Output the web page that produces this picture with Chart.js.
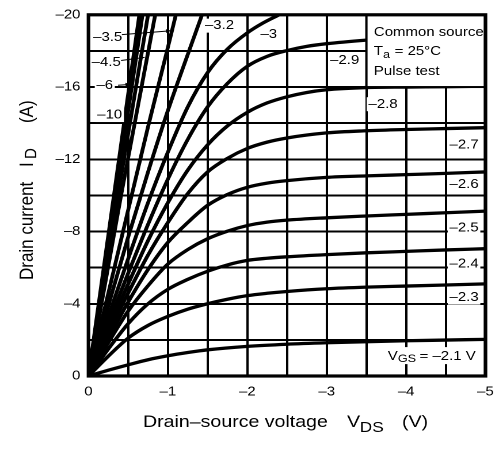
<!DOCTYPE html>
<html><head><meta charset="utf-8">
<script src="https://cdn.jsdelivr.net/npm/chart.js@4.4.0/dist/chart.umd.min.js"></script>
<style>
html,body{margin:0;padding:0;background:#fff;overflow:hidden;}
#wrap{position:absolute;left:0;top:0;width:437px;height:449px;transform:scaleX(1.15103);transform-origin:0 0;}
</style></head><body>
<div id="wrap"><canvas id="c" width="437" height="449"></canvas></div>
<script>
// ---- tick labels ----
const xTickValues = [0, -1, -2, -3, -4, -5];
const xTickLabels = ['0', '–1', '–2', '–3', '–4', '–5'];
const yTickValues = [0, -4, -8, -12, -16, -20];
const yTickLabels = ['0', '–4', '–8', '–12', '–16', '–20'];

// ---- series: [VDS (V), ID (A)] for each VGS ----
const vgs_m10 = [[0,0],[-0.32,-10],[-0.64,-20]];
const vgs_m6  = [[0,0],[-0.34,-10],[-0.68,-20]];
const vgs_m45 = [[0,0],[-0.37,-10],[-0.75,-20]];
const vgs_m4  = [[0,0],[-0.41,-10],[-0.84,-20]];
const vgs_m35 = [[0,0],[-0.25,-4.6],[-0.5,-9.2],[-0.75,-13.8],[-1,-18.2],[-1.1,-20]];
const vgs_m32 = [[0,0],[-0.25,-3.9],[-0.5,-7.7],[-0.75,-11.3],[-1,-14.7],[-1.25,-17.8],[-1.43,-20]];
const vgs_m30 = [[0,0],[-0.25,-3.3],[-0.5,-6.5],[-0.75,-9.6],[-1,-12.4],[-1.25,-14.9],[-1.5,-16.8],[-1.75,-18.1],[-2,-19.0],[-2.2,-19.55],[-2.4,-20]];
const vgs_m29 = [[0,0],[-0.25,-2.9],[-0.5,-5.7],[-0.75,-8.4],[-1,-10.9],[-1.25,-13.1],[-1.5,-14.9],[-1.75,-16.2],[-2,-17.15],[-2.25,-17.7],[-2.5,-18.02],[-2.75,-18.25],[-3,-18.4],[-3.5,-18.6],[-4,-18.75],[-4.5,-18.85],[-5,-18.95]];
const vgs_m28 = [[0,0],[-0.25,-2.6],[-0.5,-5.1],[-0.75,-7.5],[-1,-9.6],[-1.25,-11.4],[-1.5,-12.8],[-1.75,-13.85],[-2,-14.6],[-2.25,-15.12],[-2.5,-15.46],[-2.75,-15.7],[-3,-15.85],[-3.5,-15.97],[-4,-16.0],[-4.5,-16.02],[-5,-16.05]];
const vgs_m27 = [[0,0],[-0.25,-2.35],[-0.5,-4.6],[-0.75,-6.7],[-1,-8.5],[-1.25,-10.1],[-1.5,-11.3],[-1.75,-12.05],[-2,-12.6],[-2.25,-12.95],[-2.5,-13.18],[-3,-13.46],[-3.5,-13.58],[-4,-13.65],[-4.5,-13.7],[-5,-13.75]];
const vgs_m26 = [[0,0],[-0.25,-2.1],[-0.5,-4.1],[-0.75,-5.9],[-1,-7.4],[-1.25,-8.5],[-1.5,-9.45],[-1.75,-10.05],[-2,-10.45],[-2.25,-10.68],[-2.5,-10.82],[-3,-11.0],[-3.5,-11.08],[-4,-11.15],[-4.5,-11.22],[-5,-11.3]];
const vgs_m25 = [[0,0],[-0.25,-1.85],[-0.5,-3.6],[-0.75,-5.0],[-1,-6.2],[-1.25,-7.0],[-1.5,-7.6],[-1.75,-8.02],[-2,-8.33],[-2.25,-8.52],[-2.5,-8.63],[-3,-8.76],[-3.5,-8.86],[-4,-8.95],[-4.5,-9.04],[-5,-9.13]];
const vgs_m24 = [[0,0],[-0.25,-1.5],[-0.5,-2.9],[-0.75,-4.0],[-1,-4.8],[-1.25,-5.35],[-1.5,-5.8],[-1.75,-6.15],[-2,-6.4],[-2.25,-6.52],[-2.5,-6.6],[-3,-6.72],[-3.5,-6.82],[-4,-6.9],[-4.5,-6.98],[-5,-7.05]];
const vgs_m23 = [[0,0],[-0.25,-1.1],[-0.5,-2.1],[-0.75,-2.8],[-1,-3.3],[-1.25,-3.7],[-1.5,-4.0],[-1.75,-4.25],[-2,-4.45],[-2.25,-4.58],[-2.5,-4.68],[-3,-4.83],[-3.5,-4.92],[-4,-4.98],[-4.5,-5.04],[-5,-5.1]];
const vgs_m21 = [[0,0],[-0.25,-0.32],[-0.5,-0.62],[-0.75,-0.9],[-1,-1.12],[-1.25,-1.3],[-1.5,-1.45],[-2,-1.64],[-2.5,-1.76],[-3,-1.84],[-3.5,-1.9],[-4,-1.95],[-4.5,-1.99],[-5,-2.03]];

const seriesNames = ['–10','–6','–4.5','–4','–3.5','–3.2','–3','–2.9','–2.8','–2.7','–2.6','–2.5','–2.4','–2.3','–2.1'];
const seriesData  = [vgs_m10,vgs_m6,vgs_m45,vgs_m4,vgs_m35,vgs_m32,vgs_m30,vgs_m29,vgs_m28,vgs_m27,vgs_m26,vgs_m25,vgs_m24,vgs_m23,vgs_m21];

// ---- curve labels (anchored in data coordinates) ----
const curveLabels = [
  {t:'–3.5', v:-0.242, i:-18.74},
  {t:'–4.5', v:-0.223, i:-17.36},
  {t:'–6',   v:-0.205, i:-16.1},
  {t:'–10',  v:-0.267, i:-14.45},
  {t:'–3.2', v:-1.65,  i:-19.4},
  {t:'–3',   v:-2.27,  i:-18.9},
  {t:'–2.9', v:-3.226, i:-17.47},
  {t:'–2.8', v:-3.71,  i:-15.05},
  {t:'–2.7', v:-4.73,  i:-12.8},
  {t:'–2.6', v:-4.73,  i:-10.6},
  {t:'–2.5', v:-4.73,  i:-8.19},
  {t:'–2.4', v:-4.73,  i:-6.21},
  {t:'–2.3', v:-4.73,  i:-4.34}
];
const arrows = [
  {from:[-0.42,-18.9],  to:[-1.042,-19.12]},
  {from:[-0.41,-17.47], to:[-0.707,-17.64]},
  {from:[-0.372,-16.1], to:[-0.533,-16.15]}
];

const FONT = '"Liberation Sans", Arial, Helvetica, sans-serif';

function tickFmt(values, labels){
  return v => { const k = values.findIndex(t => Math.abs(t - v) < 1e-6); return k < 0 ? '' : labels[k]; };
}

function bgLabel(ctx, s, cx, cy){
  ctx.font = '13px ' + FONT;
  const w = ctx.measureText(s).width;
  ctx.fillStyle = '#fff';
  ctx.fillRect(cx - w/2 - 1.5, cy - 7, w + 3, 14);
  ctx.fillStyle = '#000';
  ctx.textAlign = 'center';
  ctx.textBaseline = 'middle';
  ctx.fillText(s, cx, cy);
}

function drawParts(ctx, parts, x, y){
  ctx.textAlign = 'left';
  ctx.textBaseline = 'alphabetic';
  let cx = x;
  for (const p of parts){
    ctx.font = p.size + 'px ' + FONT;
    ctx.fillText(p.t, cx, y + (p.dy || 0));
    cx += ctx.measureText(p.t).width + (p.gap || 0);
  }
  return cx;
}

const annot = {
  id: 'annot',
  afterDatasetsDraw(chart){
    const {ctx, chartArea: a, scales: {x, y}} = chart;
    ctx.save();
    // legend box
    const bx1 = x.getPixelForValue(-3.5), bx2 = x.getPixelForValue(-5);
    const by1 = y.getPixelForValue(-20), by2 = y.getPixelForValue(-16);
    ctx.fillStyle = '#fff';
    ctx.fillRect(bx1, by1, bx2 - bx1, by2 - by1);
    ctx.strokeStyle = '#000';
    ctx.lineWidth = 2;
    ctx.strokeRect(bx1, by1, bx2 - bx1, by2 - by1);
    ctx.fillStyle = '#000';
    drawParts(ctx, [{t:'Common source', size:13}], bx1 + 6.5, by1 + 21);
    drawParts(ctx, [{t:'T', size:13}, {t:'a', size:11, dy:3, gap:4}, {t:'= 25°C', size:13}], bx1 + 6.5, by1 + 40);
    drawParts(ctx, [{t:'Pulse test', size:13}], bx1 + 6.5, by1 + 60);

    // curve labels
    for (const L of curveLabels) bgLabel(ctx, L.t, x.getPixelForValue(L.v), y.getPixelForValue(L.i));

    // arrows
    ctx.strokeStyle = '#000';
    ctx.fillStyle = '#000';
    ctx.lineWidth = 1;
    for (const A of arrows){
      const x0 = x.getPixelForValue(A.from[0]), y0 = y.getPixelForValue(A.from[1]);
      const x1 = x.getPixelForValue(A.to[0]),   y1 = y.getPixelForValue(A.to[1]);
      ctx.beginPath(); ctx.moveTo(x0, y0); ctx.lineTo(x1, y1); ctx.stroke();
      const ang = Math.atan2(y1 - y0, x1 - x0), h = 5;
      ctx.beginPath();
      ctx.moveTo(x1, y1);
      ctx.lineTo(x1 - h*Math.cos(ang - 0.4), y1 - h*Math.sin(ang - 0.4));
      ctx.lineTo(x1 - h*Math.cos(ang + 0.4), y1 - h*Math.sin(ang + 0.4));
      ctx.closePath(); ctx.fill();
    }

    // VGS label
    ctx.font = '13px ' + FONT;
    const vx = x.getPixelForValue(-3.77), vy = y.getPixelForValue(-0.88);
    ctx.fillStyle = '#fff';
    ctx.fillRect(vx - 2, vy - 13, 83, 17);
    ctx.fillStyle = '#000';
    drawParts(ctx, [{t:'V', size:13}, {t:'GS', size:11, dy:2, gap:3}, {t:'= –2.1 V', size:13}], vx, vy);

    // frame
    ctx.strokeStyle = '#000';
    ctx.lineWidth = 3.2;
    ctx.strokeRect(a.left, a.top, a.right - a.left, a.bottom - a.top);
    ctx.restore();
  },
  afterDraw(chart){
    const {ctx} = chart;
    ctx.save();
    ctx.fillStyle = '#000';
    // x title
    ctx.textBaseline = 'alphabetic';
    ctx.textAlign = 'left';
    ctx.font = '17px ' + FONT;
    ctx.fillText('Drain–source voltage', 124.2, 427);
    ctx.fillText('V', 301.5, 427);
    ctx.font = '15px ' + FONT;
    ctx.fillText('DS', 312.5, 432);
    ctx.font = '17px ' + FONT;
    ctx.fillText('(V)', 349.3, 427);
    // y title (rotated)
    const part = (t, size, bx, ys) => {
      ctx.save();
      ctx.translate(bx, ys);
      ctx.rotate(-Math.PI/2);
      ctx.font = size + 'px ' + FONT;
      ctx.textAlign = 'left';
      ctx.textBaseline = 'alphabetic';
      ctx.fillText(t, 0, 0);
      ctx.restore();
    };
    part('Drain current', 17, 28.5, 280);
    part('I', 17, 28.5, 167);
    part('D', 15, 31.5, 159);
    part('(A)', 17, 28.5, 123);
    ctx.restore();
  }
};

const datasets = seriesData.map((pts, k) => ({
  label: 'VGS = ' + seriesNames[k] + ' V',
  data: pts.map(p => ({x: p[0], y: p[1]})),
  borderColor: '#000',
  borderWidth: 3.3,
  pointRadius: 0,
  fill: false,
  cubicInterpolationMode: 'monotone'
}));

new Chart(document.getElementById('c'), {
  type: 'line',
  data: { datasets },
  options: {
    responsive: false,
    animation: false,
    devicePixelRatio: 2,
    layout: { padding: { top: 12, right: 10, left: 0, bottom: 0 } },
    plugins: { legend: { display: false }, tooltip: { enabled: false } },
    scales: {
      x: {
        type: 'linear', min: -5, max: 0, reverse: true,
        ticks: { stepSize: 0.5, autoSkip: false, maxRotation: 0, padding: 8, color: '#000',
                 font: { family: FONT, size: 13 }, callback: tickFmt(xTickValues, xTickLabels) },
        grid: { color: '#000', lineWidth: 2, drawTicks: false },
        border: { display: false },
        afterFit: s => { s.height = 73; }
      },
      y: {
        type: 'linear', min: -20, max: 0, reverse: true,
        ticks: { stepSize: 2, autoSkip: false, padding: 7, color: '#000',
                 font: { family: FONT, size: 13 }, callback: tickFmt(yTickValues, yTickLabels) },
        grid: { color: '#000', lineWidth: 2, drawTicks: false },
        border: { display: false },
        afterFit: s => { s.width = 76.9; }
      }
    }
  },
  plugins: [annot]
});
</script>
</body></html>
